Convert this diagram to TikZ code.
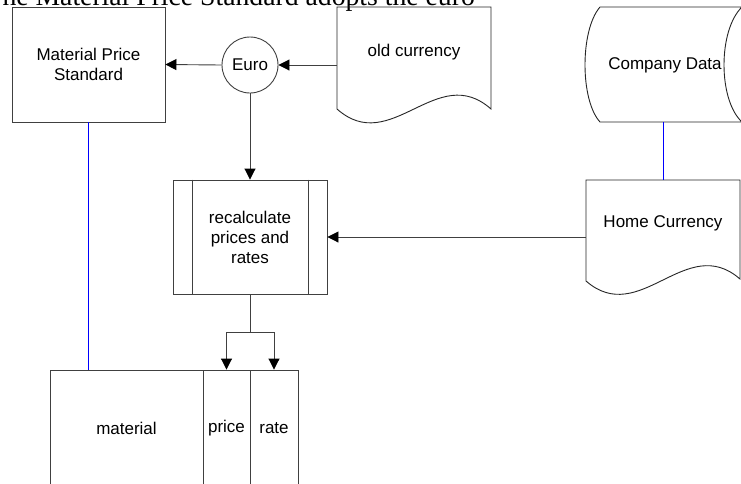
\documentclass[tikz,border=0pt]{standalone}
\usepackage{fontspec}
\setmainfont{Liberation Sans}
\newfontfamily\titlefont{Liberation Serif}
\usetikzlibrary{arrows.meta,calc}
\begin{document}
\begin{tikzpicture}[x=1pt,y=-1pt,
  line/.style={draw=black!75,line width=0.9pt},
  arr/.style={line,-{Triangle[length=11pt,width=11pt,color=black]}},
  assoc/.style={draw=blue,line width=1pt},
  txt/.style={font=\fontsize{17}{20}\selectfont,align=center,text=black},
  boxnode/.style={txt,line,rectangle,inner sep=0pt},
  ghost/.style={txt,rectangle,inner sep=0pt}]
\useasboundingbox (0,0) rectangle (741,483);
\fill[white] (0,0) rectangle (741,483);

% title
\node[anchor=base east,inner sep=0pt,font=\titlefont\fontsize{27.7}{30}\selectfont] (title) at (475,5) {The Material Price Standard adopts the euro};

% Material Price Standard
\node[boxnode,minimum width=153pt,minimum height=115pt] (mps) at (88.5,64.5) {Material Price\\Standard};

% Euro
\node[txt,line,circle,minimum size=56pt,inner sep=0pt] (euro) at (250,65) {Euro};

% old currency (document)
\node[ghost,minimum width=154pt,minimum height=102pt] (old) at (414,58) {};
\node[txt] (oldt) at (414,52) {old currency};
\draw[line,draw=black!85] (337,109) -- (337,7) -- (491,7) -- (491,109)
  .. controls (437,61) and (391,157) .. (337,109);

% Company Data (stored data)
\node[ghost,minimum width=140pt,minimum height=115pt] (comp) at (663,64.5) {};
\node[txt] (compt) at (665,65) {Company Data};
\draw[line,draw=black!85] (600,7) -- (742,7) .. controls (718,30) and (718,100) .. (742,122)
  -- (600,122) .. controls (580,100) and (580,30) .. (600,7);

% Home Currency (document)
\node[ghost,minimum width=154pt,minimum height=100pt] (home) at (663,230) {};
\node[txt] (homet) at (663,223) {Home Currency};
\draw[line,draw=black!85] (586,281) -- (586,180) -- (740,180) -- (740,279)
  .. controls (686,232) and (640,328) .. (586,281);

% recalculate (predefined process)
\node[boxnode,minimum width=154pt,minimum height=114pt] (calc) at (250,237) {recalculate\\prices and\\rates};
\draw[line] ($(calc.north west)+(20,0)$) -- ($(calc.south west)+(20,0)$);
\draw[line] ($(calc.north east)+(-19,0)$) -- ($(calc.south east)+(-19,0)$);

% table
\node[boxnode,minimum width=153pt,minimum height=116pt] (material) at (126.5,428) {material};
\node[boxnode,minimum width=47pt,minimum height=116pt] (price) at (226.5,428) {price};
\node[boxnode,minimum width=48pt,minimum height=116pt] (rate) at (274,428) {rate};

% connectors
\draw[arr] (old.west |- euro.east) -- (euro.east);
\draw[arr] (euro.west) -- (mps.east);
\draw[arr] (euro.south) -- (calc.north);
\draw[arr] (home.west |- calc.east) -- (calc.east);
\coordinate (fork) at (250,332);
\draw[line] (calc.south) -- (fork);
\draw[arr] (fork) -| (price.north);
\draw[arr] (fork) -| (rate.north);
\draw[assoc] (mps.south) -- (mps.south |- material.north);
\draw[assoc] (comp.south) -- (home.north);
\end{tikzpicture}
\end{document}
